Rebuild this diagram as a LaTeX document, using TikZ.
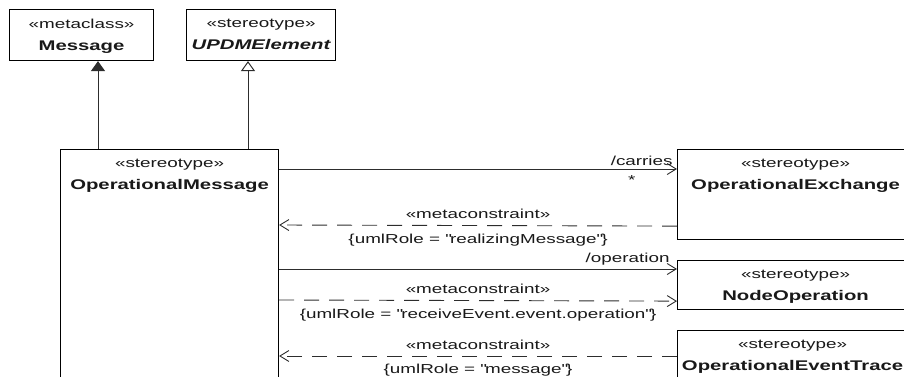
\documentclass[tikz,border=0pt]{standalone}
\usepackage{fontspec}
\setmainfont{Liberation Sans}[FakeStretch=1.45]
\usetikzlibrary{arrows.meta, positioning}
\definecolor{umlline}{RGB}{45,45,45}
\definecolor{umltext}{RGB}{25,25,25}
\newcommand{\umlstereo}[2]{#1\\{\fontsize{14}{22}\selectfont\bfseries #2}}

\begin{document}
\begin{tikzpicture}[x=1pt, y=-1pt,
  classbox/.style={draw=black, line width=1.1pt, fill=white, inner sep=0pt, anchor=north west},
  classname/.style={anchor=north, inner sep=0pt, yshift=-9.5pt, align=center,
                    text=umltext, font=\fontsize{13}{22}\selectfont},
  assoc/.style={-{Straight Barb[length=9pt, width=11pt]}, umlline, line width=0.9pt},
  constraint/.style={assoc, dash pattern=on 15pt off 10pt},
  generalize/.style={-{Triangle[open, length=10pt, width=14pt]}, umlline, line width=1pt},
  rolelabel/.style={font=\fontsize{13}{15}\selectfont, text=umltext, inner sep=1pt}
]
  \clip (0,0) rectangle (904,377);

  % metaclass and parent stereotype
  \node[classbox, minimum width=144pt, minimum height=51pt,
        label={[classname]north:{\umlstereo{«metaclass»}{Message}}}] (msg) at (9,9) {};
  \node[classbox, minimum width=149pt, minimum height=51pt,
        label={[classname]north:{\umlstereo{«stereotype»}{\itshape UPDMElement}}}] (updm) at (186,9) {};

  % the stereotype
  \node[classbox, minimum width=218pt, minimum height=260pt,
        label={[classname]north:{\umlstereo{«stereotype»}{OperationalMessage}}}] (opmsg) at (60,149) {};

  % related stereotypes
  \node[classbox, minimum width=236pt, minimum height=90pt,
        label={[classname]north:{\umlstereo{«stereotype»}{OperationalExchange}}}] (opexch) at (677,149) {};
  \node[classbox, minimum width=236pt, minimum height=49pt,
        label={[classname]north:{\umlstereo{«stereotype»}{NodeOperation}}}] (nodeop) at (677,260) {};
  \node[classbox, minimum width=236pt, minimum height=100pt,
        label={[classname, xshift=-3pt]north:{\umlstereo{«stereotype»}{OperationalEventTrace}}}] (evtrace) at (677,330) {};

  % generalizations
  \draw[generalize, -{Triangle[length=10pt, width=14pt, fill=umlline]}]
    ([xshift=38pt]opmsg.north west) -- ([xshift=89pt]msg.south west);
  \draw[generalize] ([xshift=188pt]opmsg.north west) -- ([xshift=62pt]updm.south west);

  % associations
  \draw[assoc] ([yshift=-20pt]opmsg.north east) -- ([yshift=-20pt]opexch.north west)
    node[rolelabel, pos=1, above left, xshift=-3pt, yshift=2pt] {/carries}
    node[rolelabel, pos=1, below left, xshift=-40pt, yshift=-5pt] {*};
  \draw[assoc] ([yshift=-120pt]opmsg.north east) -- ([yshift=-9pt]nodeop.north west)
    node[rolelabel, pos=1, above left, xshift=-6pt, yshift=2pt] {/operation};

  % metaconstraints
  \draw[constraint] ([yshift=14pt]opexch.south west) -- ([yshift=-76pt]opmsg.north east)
    node[rolelabel, midway, above=5pt] {«metaconstraint»}
    node[rolelabel, midway, below=7pt] {\{umlRole = \textquotedbl realizingMessage\textquotedbl\}};
  \draw[constraint] ([yshift=-151pt]opmsg.north east) -- ([yshift=9pt]nodeop.south west)
    node[rolelabel, midway, above=5pt] {«metaconstraint»}
    node[rolelabel, midway, below=7pt] {\{umlRole = \textquotedbl receiveEvent.event.operation\textquotedbl\}};
  \draw[constraint] ([yshift=-26pt]evtrace.north west) -- ([yshift=-207pt]opmsg.north east)
    node[rolelabel, midway, above=5pt] {«metaconstraint»}
    node[rolelabel, midway, below=7pt] {\{umlRole = \textquotedbl message\textquotedbl\}};
\end{tikzpicture}
\end{document}
